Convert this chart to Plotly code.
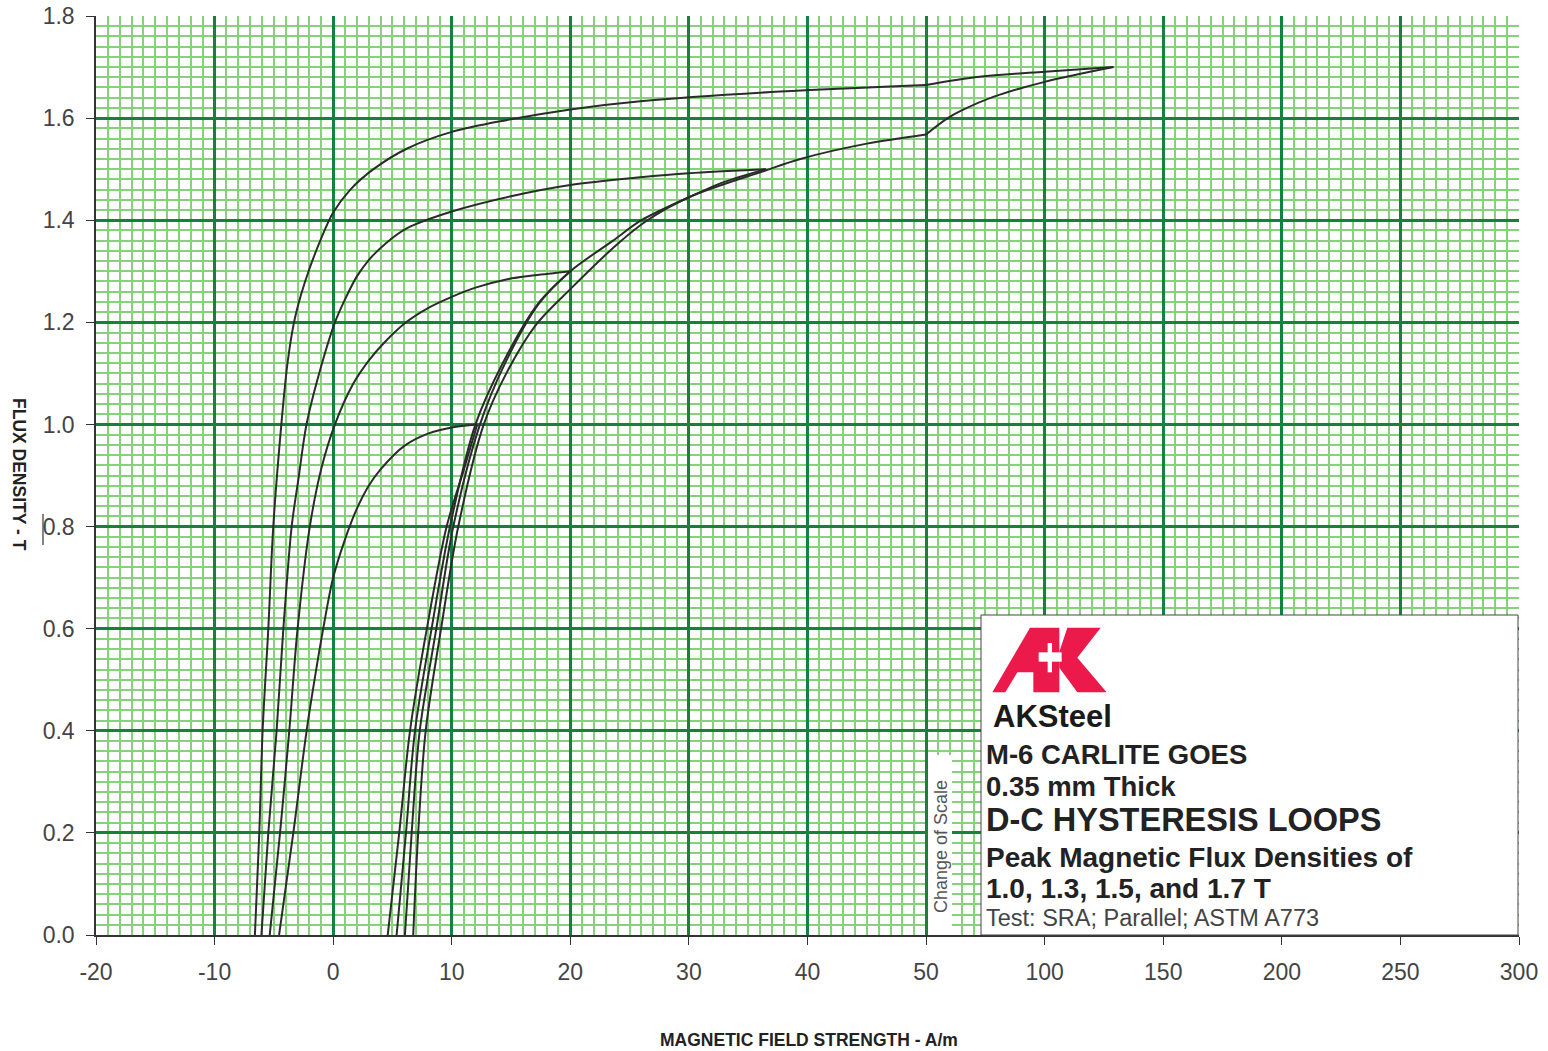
import plotly.graph_objects as go

# ---------------------------------------------------------------------------
# Axis scale: linear in H up to 50 A/m, then compressed 5:1 out to 300 A/m
# ---------------------------------------------------------------------------
BREAK_H = 50.0
COMPRESS = 5.0


def h_to_axis(h):
    return h if h <= BREAK_H else BREAK_H + (h - BREAK_H) / COMPRESS


x_tick_values = [-20, -10, 0, 10, 20, 30, 40, 50, 100, 150, 200, 250, 300]
x_tick_labels = ["-20", "-10", "0", "10", "20", "30", "40", "50",
                 "100", "150", "200", "250", "300"]
y_tick_values = [0.0, 0.2, 0.4, 0.6, 0.8, 1.0, 1.2, 1.4, 1.6, 1.8]
y_tick_labels = ["0.0", "0.2", "0.4", "0.6", "0.8", "1.0", "1.2", "1.4", "1.6", "1.8"]

# ---------------------------------------------------------------------------
# D-C hysteresis loops (H in A/m, B in T); ascending branch from B=0 to the
# tip, descending branch from the tip back to B=0
# ---------------------------------------------------------------------------
peak_10_rise_h = [4.6, 5.57, 6.48, 7.9, 9.57, 11.0, 12.15]
peak_10_rise_b = [0.0, 0.2, 0.4, 0.6, 0.8, 0.91, 1.0]
peak_10_fall_h = [12.15, 10.0, 8.0, 6.0, 4.0, 3.0, 2.0, 1.0, 0.0, -0.84, -1.5, -2.24, -3.36, -4.56]
peak_10_fall_b = [1.0, 0.994, 0.982, 0.958, 0.912, 0.88, 0.835, 0.775, 0.70, 0.6, 0.51, 0.4, 0.2, 0.0]

peak_13_rise_h = [5.35, 6.14, 6.9, 8.3, 9.85, 12.0, 14.3, 17.3, 20.0]
peak_13_rise_b = [0.0, 0.2, 0.4, 0.6, 0.8, 1.0, 1.12, 1.237, 1.30]
peak_13_fall_h = [20.0, 17.0, 14.6, 12.0, 10.0, 8.0, 6.2, 4.3, 3.0, 1.7, 0.15,
                  -0.97, -1.97, -3.0, -3.7, -4.48, -5.35]
peak_13_fall_b = [1.30, 1.292, 1.284, 1.268, 1.25, 1.228, 1.201, 1.16, 1.125, 1.08, 1.0,
                  0.916, 0.8, 0.6, 0.4, 0.2, 0.0]

peak_15_rise_h = [6.05, 6.62, 7.3, 8.7, 10.13, 12.38, 14.5, 17.3, 20.0, 23.6, 26.0, 30.0, 33.0, 36.5]
peak_15_rise_b = [0.0, 0.2, 0.4, 0.6, 0.8, 1.0, 1.12, 1.235, 1.30, 1.36, 1.40, 1.445, 1.475, 1.50]
peak_15_fall_h = [36.5, 30.0, 25.9, 20.0, 15.0, 10.0, 6.2, 4.5, 3.0, 2.0, 1.0, 0.15, -1.0, -2.25,
                  -2.9, -3.5, -4.2, -4.77, -5.47, -6.05]
peak_15_fall_b = [1.50, 1.492, 1.484, 1.469, 1.447, 1.417, 1.384, 1.356, 1.322, 1.29, 1.245, 1.2,
                  1.115, 1.0, 0.898, 0.8, 0.6, 0.4, 0.2, 0.0]

peak_17_rise_h = [6.75, 7.17, 7.8, 9.1, 10.55, 12.7, 14.6, 17.1, 20.0, 24.05, 26.5, 30.0,
                  36.4, 39.4, 45.0, 50.0, 58.8, 65.0, 78.6, 100.0, 129.0]
peak_17_rise_b = [0.0, 0.2, 0.4, 0.6, 0.8, 1.0, 1.10, 1.195, 1.265, 1.355, 1.40, 1.445,
                  1.497, 1.52, 1.55, 1.568, 1.599, 1.615, 1.642, 1.671, 1.70]
peak_17_fall_h = [129.0, 100.0, 72.5, 50.0, 37.7, 25.9, 20.0, 14.6, 10.0, 6.2, 3.4, 1.45, 0.0,
                  -1.0, -2.0, -2.7, -3.3, -3.85, -4.37, -5.05, -5.47, -5.95, -6.23, -6.6]
peak_17_fall_b = [1.70, 1.691, 1.681, 1.665, 1.652, 1.633, 1.617, 1.596, 1.573, 1.54, 1.50, 1.46, 1.415,
                  1.365, 1.305, 1.255, 1.2, 1.12, 1.0, 0.8, 0.6, 0.4, 0.2, 0.0]

branches = [
    (peak_10_rise_h, peak_10_rise_b), (peak_10_fall_h, peak_10_fall_b),
    (peak_13_rise_h, peak_13_rise_b), (peak_13_fall_h, peak_13_fall_b),
    (peak_15_rise_h, peak_15_rise_b), (peak_15_fall_h, peak_15_fall_b),
    (peak_17_rise_h, peak_17_rise_b), (peak_17_fall_h, peak_17_fall_b),
]

# ---------------------------------------------------------------------------
# Styling
# ---------------------------------------------------------------------------
W, H = 1548, 1051
PLOT_L, PLOT_R, PLOT_T, PLOT_B = 96, 1519, 16, 935
MAJOR_GRID = "#14823f"
MINOR_GRID = "#86d27a"
CURVE = "#2b2b2b"
TEXT = "#222222"
FONT = "Liberation Sans, Arial, Helvetica, sans-serif"


def px_x(px):
    return (px - PLOT_L) / (PLOT_R - PLOT_L)


def px_y(py):
    return (PLOT_B - py) / (PLOT_B - PLOT_T)


def split_at_break(hs, bs):
    """Split a branch where the scale changes so the corner there stays sharp."""
    if BREAK_H not in hs:
        return [(hs, bs)]
    i = hs.index(BREAK_H)
    return [(hs[:i + 1], bs[:i + 1]), (hs[i:], bs[i:])]


fig = go.Figure()
for hs, bs in branches:
    for seg_h, seg_b in split_at_break(hs, bs):
        fig.add_trace(go.Scatter(
            x=[h_to_axis(h) for h in seg_h], y=seg_b, mode="lines",
            line=dict(color=CURVE, width=2, shape="spline", smoothing=0.9),
            hoverinfo="skip", showlegend=False,
        ))

shapes = []
# Title block
shapes.append(dict(type="rect", xref="paper", yref="paper",
                   x0=px_x(981), x1=px_x(1518), y0=0, y1=px_y(615),
                   fillcolor="white", line=dict(color="#444444", width=1), layer="above"))
# Strip behind the "Change of Scale" note
shapes.append(dict(type="rect", xref="paper", yref="paper",
                   x0=px_x(928), x1=px_x(952), y0=0, y1=px_y(755),
                   fillcolor="white", line=dict(width=0), layer="above"))
# Small rule mark beside the 0.8 label
shapes.append(dict(type="line", xref="paper", yref="paper",
                   x0=px_x(43), x1=px_x(43), y0=px_y(514), y1=px_y(545),
                   line=dict(color="#333333", width=1.2)))

# Logo outline, drawn in pixel units then mapped to paper space
LOGO_X0, LOGO_Y0, LOGO_S = 980, 615, 1 / 3.0


def logo_path(points):
    pts = [(px_x(LOGO_X0 + x * LOGO_S), px_y(LOGO_Y0 + y * LOGO_S)) for x, y in points]
    return "M " + " L ".join(f"{a:.5f},{b:.5f}" for a, b in pts) + " Z"


LOGO_RED = "#ec1a4b"
logo_red_parts = [
    [(37, 232), (150, 38), (238, 38), (238, 232), (160, 232), (160, 172), (112, 172), (76, 232)],
    [(262, 38), (362, 38), (292, 128), (380, 232), (292, 232), (238, 158), (238, 110)],
]
logo_white_parts = [
    [(176, 112), (245, 112), (245, 140), (176, 140)],
    [(203, 84), (216, 84), (216, 172), (203, 172)],
]
for part in logo_red_parts:
    shapes.append(dict(type="path", xref="paper", yref="paper", path=logo_path(part),
                       fillcolor=LOGO_RED, line=dict(width=0), layer="above"))
for part in logo_white_parts:
    shapes.append(dict(type="path", xref="paper", yref="paper", path=logo_path(part),
                       fillcolor="white", line=dict(width=0), layer="above"))

annotations = []


def note(text, px, py, size, bold=True, color=TEXT, family=FONT, **kw):
    annotations.append(dict(
        text=f"<b>{text}</b>" if bold else text,
        xref="paper", yref="paper", x=px_x(px), y=px_y(py),
        xanchor=kw.pop("xanchor", "left"), yanchor=kw.pop("yanchor", "middle"),
        showarrow=False, font=dict(size=size, color=color, family=family), **kw))


note("AKSteel", 991, 716, 31, color="#1a1a1a")
note("M-6 CARLITE GOES", 984, 754, 27.5)
note("0.35 mm Thick", 984, 786, 27.5)
note("D-C HYSTERESIS LOOPS", 984, 820, 32.5)
note("Peak Magnetic Flux Densities of", 984, 857, 28)
note("1.0, 1.3, 1.5, and 1.7 T", 984, 888, 28)
note("Test: SRA; Parallel; ASTM A773", 984, 918, 23.5, bold=False, color="#444444")
note("Change of Scale", 941, 846, 18, bold=False, color="#555555",
     xanchor="center", textangle=-90)

# Axis titles
note("MAGNETIC FIELD STRENGTH - A/m", 809, 1040, 17.5, xanchor="center")
note("FLUX DENSITY - T", 19, 474, 17.5, xanchor="center", textangle=90)

axis_common = dict(
    showgrid=True, gridcolor=MAJOR_GRID, gridwidth=3,
    showline=True, linecolor="#333333", linewidth=1.5,
    ticks="outside", ticklen=8, tickcolor="#333333", tickwidth=1.2,
    tickfont=dict(size=23, color="#444444", family=FONT),
    zeroline=False, tickmode="array", automargin=False,
)

fig.update_layout(
    width=W, height=H,
    margin=dict(l=PLOT_L, r=W - PLOT_R, t=PLOT_T, b=H - PLOT_B, autoexpand=False),
    paper_bgcolor="white", plot_bgcolor="white",
    xaxis=dict(
        range=[-20, 100],
        tickvals=[h_to_axis(v) for v in x_tick_values], ticktext=x_tick_labels,
        ticklabelstandoff=8,
        minor=dict(tickmode="linear", tick0=-20, dtick=1, showgrid=True,
                   gridcolor=MINOR_GRID, gridwidth=1.5, ticks=""),
        **axis_common,
    ),
    yaxis=dict(
        range=[0, 1.8],
        tickvals=y_tick_values, ticktext=y_tick_labels,
        ticklabelstandoff=7,
        minor=dict(tickmode="linear", tick0=0, dtick=0.02, showgrid=True,
                   gridcolor=MINOR_GRID, gridwidth=1.5, ticks=""),
        **axis_common,
    ),
    shapes=shapes,
    annotations=annotations,
    showlegend=False,
)

fig.write_html("out.html")
